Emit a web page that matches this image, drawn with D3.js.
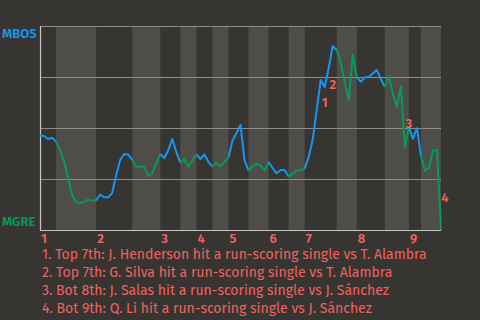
<!doctype html>
<html lang="en">
<head>
<meta charset="utf-8">
<title>Win probability</title>
<script src="https://cdn.jsdelivr.net/npm/d3@7"></script>
<style>
  body { margin: 0; background: #373531; }
  svg { display: block; font-family: "Fira Sans", "Noto Sans", sans-serif; }
</style>
</head>
<body>
<div id="chart"></div>
<script>
var width = 480, height = 320;

// teams: away (top of chart), home (bottom)
var teams = ['MBOS', 'MGRE'];

// MBOS win probability (%) after each play
var wp = [
  46.3, 46.1, 44.6, 45.2, 43.4, 39.2, 33.8, 25.5, 17.2, 13.5,
  13.2, 13.8, 14.9, 14.3, 14.5, 17.4, 16.0, 16.0, 18.1, 27.0,
  34.3, 37.3, 37.0, 34.3, 31.1, 31.0, 30.9, 26.5, 27.9, 32.6,
  37.3, 35.3, 39.2, 44.6, 38.2, 33.0, 34.6, 31.0, 34.1, 37.1,
  34.7, 37.0, 33.3, 31.1, 33.0, 31.1, 33.3, 35.5, 43.9, 47.4,
  51.5, 34.3, 29.1, 31.1, 32.4, 31.6, 29.2, 33.3, 30.4, 27.8,
  29.4, 29.4, 26.2, 27.5, 29.2, 29.2, 30.1, 35.8, 44.1, 58.8,
  73.5, 70.1, 79.4, 90.2, 88.2, 81.9, 72.1, 63.7, 85.8, 75.0,
  72.7, 74.8, 75.1, 76.7, 78.4, 74.0, 70.1, 75.5, 66.9, 60.3,
  70.6, 40.7, 50.5, 44.6, 49.9, 36.3, 29.2, 30.4, 39.0, 39.2,
  0
];

// play index where each half inning starts (top 1, bot 1, top 2, ...)
var halfStarts = [0, 4, 14, 23, 30, 35, 39, 43, 47, 52, 57, 62, 66, 74, 79, 86, 92, 95];
var innings = ['1', '2', '3', '4', '5', '6', '7', '8', '9'];
var gridTicks = [0, 25, 50, 75, 100];

// key plays: index of the play and its description
var noteIdx = [70, 72, 91, 100];
var notes = [
  'Top 7th: J. Henderson hit a run-scoring single vs T. Alambra',
  'Top 7th: G. Silva hit a run-scoring single vs T. Alambra',
  'Bot 8th: J. Salas hit a run-scoring single vs J. Sánchez',
  'Bot 9th: Q. Li hit a run-scoring single vs J. Sánchez'
];

var blue = '#1496f2', green = '#089a58', red = '#f0625f';

var x = d3.scaleLinear().domain([0, wp.length - 1]).range([40, 441]);
var y = d3.scaleLinear().domain([0, 100]).range([230, 26]);

var svg = d3.select('#chart')
  .append('svg')
  .attr('width', width)
  .attr('height', height);

// half inning bands, bottom halves shaded
var ends = halfStarts.slice(1).concat([wp.length - 1]);
svg.selectAll('.band')
  .data(halfStarts)
  .enter()
  .append('rect')
  .attr('class', 'band')
  .attr('x', function(d) { return x(d); })
  .attr('y', y(100))
  .attr('width', function(d, i) { return x(ends[i]) - x(d); })
  .attr('height', y(0) - y(100))
  .attr('fill', function(d, i) { return i % 2 ? '#4f4d4a' : 'none'; });

// grid lines
svg.selectAll('.grid')
  .data(gridTicks.slice(1))
  .enter()
  .append('line')
  .attr('x1', x(0))
  .attr('x2', x(wp.length - 1))
  .attr('y1', function(d) { return y(d) + 0.5; })
  .attr('y2', function(d) { return y(d) + 0.5; })
  .attr('stroke', '#8e8c89')
  .attr('stroke-width', 1.2);

// axes lines
svg.append('line')
  .attr('x1', x(0) + 0.5).attr('x2', x(0) + 0.5)
  .attr('y1', y(100)).attr('y2', y(0) + 1)
  .attr('stroke', '#c9c7c4').attr('stroke-width', 1.2);
svg.append('line')
  .attr('x1', x(0)).attr('x2', x(wp.length - 1))
  .attr('y1', y(0) + 0.5).attr('y2', y(0) + 0.5)
  .attr('stroke', '#c9c7c4').attr('stroke-width', 1.2);

// line, one piece per half inning
var line = d3.line()
  .x(function(d) { return x(d); })
  .y(function(d) { return y(wp[d]); });

svg.selectAll('.wp')
  .data(halfStarts)
  .enter()
  .append('path')
  .attr('class', 'wp')
  .attr('d', function(d, i) { return line(d3.range(d, ends[i] + 1)); })
  .attr('fill', 'none')
  .attr('stroke', function(d, i) { return i % 2 ? green : blue; })
  .attr('stroke-width', 2)
  .attr('stroke-linejoin', 'round');

// team labels
svg.append('text')
  .attr('x', 2).attr('y', 38)
  .attr('fill', blue).attr('font-size', 13).attr('font-weight', 600)
  .text(teams[0]);
svg.append('text')
  .attr('x', 2).attr('y', 226)
  .attr('fill', green).attr('font-size', 13).attr('font-weight', 600)
  .text(teams[1]);

// inning numbers
svg.selectAll('.inn')
  .data(innings)
  .enter()
  .append('text')
  .attr('class', 'inn')
  .attr('x', function(d, i) { return x(halfStarts[i * 2]) + 1; })
  .attr('y', 243)
  .attr('fill', red).attr('font-size', 13).attr('font-weight', 600)
  .text(function(d) { return d; });

// key play markers
svg.selectAll('.mark')
  .data(noteIdx)
  .enter()
  .append('text')
  .attr('class', 'mark')
  .attr('x', function(d) { return (x(d - 1) + x(d)) / 2 + 6; })
  .attr('y', function(d) { return (y(wp[d - 1]) + y(wp[d])) / 2 + 7; })
  .attr('dy', '0.35em')
  .attr('text-anchor', 'middle')
  .attr('fill', red).attr('font-size', 13).attr('font-weight', 600)
  .text(function(d, i) { return i + 1; });

// key play list
svg.selectAll('.note')
  .data(notes)
  .enter()
  .append('text')
  .attr('class', 'note')
  .attr('x', 42)
  .attr('y', function(d, i) { return 259 + i * 18; })
  .attr('fill', red).attr('font-size', 14)
  .text(function(d, i) { return (i + 1) + '. ' + d; });
</script>
</body>
</html>
